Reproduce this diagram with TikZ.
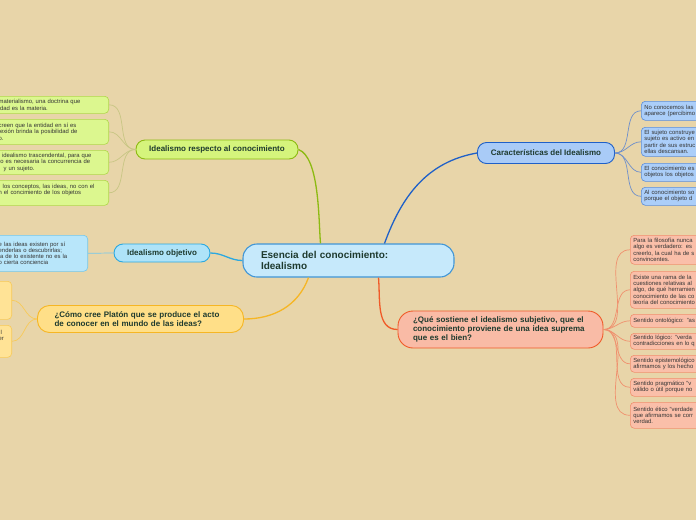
\documentclass[tikz,border=0pt]{standalone}
\usepackage{fontspec}
\setmainfont{Liberation Sans}
\usetikzlibrary{positioning}

\definecolor{bgtan}{HTML}{E8D5A9}
\definecolor{titletext}{HTML}{1E3A2E}
\definecolor{leaftext}{HTML}{353535}
\definecolor{centerfill}{HTML}{C6E9FB}
\definecolor{centerline}{HTML}{4196D6}
\definecolor{greenfill}{HTML}{D5F47C}
\definecolor{greenline}{HTML}{8DBA12}
\definecolor{greenleaf}{HTML}{DCF78F}
\definecolor{greenleafline}{HTML}{AFD84A}
\definecolor{greenlink}{HTML}{C8C684}
\definecolor{cyanfill}{HTML}{AEE3F8}
\definecolor{cyanline}{HTML}{2BA8E0}
\definecolor{cyanleaf}{HTML}{B8E6FA}
\definecolor{cyanleafline}{HTML}{72C8EE}
\definecolor{yellowfill}{HTML}{FFDF88}
\definecolor{yellowline}{HTML}{F6B624}
\definecolor{yellowleaf}{HTML}{FFE396}
\definecolor{yellowleafline}{HTML}{F8CA58}
\definecolor{bluefill}{HTML}{A9CBF7}
\definecolor{blueline}{HTML}{1F60C8}
\definecolor{blueleaf}{HTML}{ABCEF9}
\definecolor{blueleafline}{HTML}{5C8EDA}
\definecolor{bluelink}{HTML}{6E8FCB}
\definecolor{redfill}{HTML}{F9BBA6}
\definecolor{redline}{HTML}{F05A28}
\definecolor{redleaf}{HTML}{FABFA9}
\definecolor{redleafline}{HTML}{F0906E}

\begin{document}
\begin{tikzpicture}[
      x=1pt, y=-1pt,
      title/.style={rectangle, rounded corners=9pt, line width=0.9pt, inner sep=0pt,
            align=center, text=titletext, font=\bfseries\fontsize{8}{9}\selectfont},
      leaf/.style={rectangle, rounded corners=4pt, line width=0.6pt, inner xsep=3pt,
            inner ysep=0pt, align=left, text=leaftext, font=\fontsize{5.9}{6.2}\selectfont},
      mainlink/.style={line width=1.3pt},
      leaflink/.style={line width=0.7pt}
]
      \useasboundingbox (0,0) rectangle (696,520);
      \fill[bgtan] (0,0) rectangle (696,520);
      \clip (0,0) rectangle (696,520);

      % centre and first level
      \node[title, fill=centerfill, draw=centerline, line width=1.1pt, rounded corners=14pt,
            minimum width=211pt, minimum height=33pt, text width=175pt, align=left,
            font=\bfseries\fontsize{10}{11}\selectfont] (central) at (348.5,260.5)
            {Esencia del conocimiento:\\Idealismo};
      \node[title, fill=greenfill, draw=greenline, minimum width=162pt, minimum height=19pt]
            (respecto) at (217,149.5) {Idealismo respecto al conocimiento};
      \node[title, fill=cyanfill, draw=cyanline, minimum width=96pt, minimum height=18pt]
            (objetivo) at (162,253) {Idealismo objetivo};
      \node[title, fill=yellowfill, draw=yellowline, rounded corners=12pt, minimum width=206pt,
            minimum height=27pt, text width=172pt, align=left] (platon) at (140.5,319)
            {¿Cómo cree Platón que se produce el acto\\de conocer en el mundo de las ideas?};
      \node[title, fill=bluefill, draw=blueline, minimum width=137pt, minimum height=21pt]
            (caract) at (546,153) {Características del Idealismo};
      \node[title, fill=redfill, draw=redline, rounded corners=15pt, minimum width=205pt,
            minimum height=37pt, text width=175pt, align=left] (subjetivo) at (500.5,329.5)
            {¿Qué sostiene el idealismo subjetivo, que el\\conocimiento proviene de una idea suprema\\que es el bien?};

      % left leaves
      \node[leaf, fill=greenleaf, draw=greenleafline, anchor=north east, text width=107pt,
            minimum height=17pt] (g1) at (109,96)
            {materialismo, una doctrina que\\idad es la materia.};
      \node[leaf, fill=greenleaf, draw=greenleafline, anchor=north east, text width=107pt,
            minimum height=25pt] (g2) at (109,119)
            {creen que la entidad en sí es\\lexión brinda la posibilidad de\\o.};
      \node[leaf, fill=greenleaf, draw=greenleafline, anchor=north east, text width=107pt,
            minimum height=24pt] (g3) at (109,150)
            {l idealismo trascendental, para que\\to es necesaria la concurrencia de\\\hspace*{5pt}y un sujeto.};
      \node[leaf, fill=greenleaf, draw=greenleafline, anchor=north east, text width=107pt,
            minimum height=25pt] (g4) at (109,180)
            {\hspace*{4pt}los conceptos, las ideas, no con el\\n el concimiento de los objetos\\\mbox{}};
      \node[leaf, fill=cyanleaf, draw=cyanleafline, anchor=north east, text width=86pt,
            minimum height=36pt] (c1) at (88,235)
            {e las ideas existen por sí\\enderlas o descubrirlas;\\ia de lo existente no es la\\o cierta conciencia};
      \node[leaf, fill=yellowleaf, draw=yellowleafline, anchor=north east, text width=10pt,
            minimum height=38pt] (y1) at (12,281) {};
      \node[leaf, fill=yellowleaf, draw=yellowleafline, anchor=north east, text width=10pt,
            minimum height=32pt] (y2) at (12,325)
            {\hspace*{2pt}l\\er\\\mbox{}\\\mbox{}};

      % right leaves
      \node[leaf, fill=blueleaf, draw=blueleafline, anchor=north west, text width=100pt,
            minimum height=19pt] (b1) at (641,101)
            {No conocemos las\\aparece (percibimo};
      \node[leaf, fill=blueleaf, draw=blueleafline, anchor=north west, text width=100pt,
            minimum height=29pt] (b2) at (641,127)
            {El sujeto construye\\sujeto es activo en\\partir de sus estruc\\ellas descansan.};
      \node[leaf, fill=blueleaf, draw=blueleafline, anchor=north west, text width=100pt,
            minimum height=18pt] (b3) at (641,163)
            {El conocimiento es\\objetos los objetos};
      \node[leaf, fill=blueleaf, draw=blueleafline, anchor=north west, text width=100pt,
            minimum height=18pt] (b4) at (641,187)
            {Al conocimiento so\\porque el objeto d};

      \node[leaf, fill=redleaf, draw=redleafline, anchor=north west, text width=100pt,
            minimum height=29pt] (r1) at (630,235)
            {Para la filosofía nunca\\algo es verdadero: es\\creerlo, la cual ha de s\\convincentes.};
      \node[leaf, fill=redleaf, draw=redleafline, anchor=north west, text width=100pt,
            minimum height=37pt] (r2) at (630,271)
            {Existe una rama de la\\cuestiones relativas al\\algo, de qué herramien\\conocimiento de las co\\teoría del conocimiento};
      \node[leaf, fill=redleaf, draw=redleafline, anchor=north west, text width=100pt,
            minimum height=13pt] (r3) at (630,314)
            {Sentido ontológico: "as};
      \node[leaf, fill=redleaf, draw=redleafline, anchor=north west, text width=100pt,
            minimum height=16pt] (r4) at (630,333)
            {Sentido lógico: "verda\\contradicciones en lo q};
      \node[leaf, fill=redleaf, draw=redleafline, anchor=north west, text width=100pt,
            minimum height=17pt] (r5) at (630,355)
            {Sentido epistemológico\\afirmamos y los hecho};
      \node[leaf, fill=redleaf, draw=redleafline, anchor=north west, text width=100pt,
            minimum height=18pt] (r6) at (630,378)
            {Sentido pragmático "v\\válido o útil porque no};
      \node[leaf, fill=redleaf, draw=redleafline, anchor=north west, text width=100pt,
            minimum height=26pt] (r7) at (630,402)
            {Sentido ético "verdade\\que afirmamos se corr\\verdad.};

      % main branches
      \draw[mainlink, greenline] ([xshift=-28pt]central.north) to[out=95,in=-20,looseness=0.6] (respecto.east);
      \draw[mainlink, blueline] ([xshift=36pt]central.north) to[out=70,in=190] (caract.west);
      \draw[mainlink, cyanline] (central.west) to[out=180,in=0] (objetivo.east);
      \draw[mainlink, yellowline] ([xshift=-40pt]central.south) to[out=-110,in=0] (platon.east);
      \draw[mainlink, redline] ([xshift=30pt]central.south) to[out=-85,in=180] (subjetivo.west);

      % leaf links
      \foreach \leafname in {g1,g2,g3,g4}
            \draw[leaflink, greenlink] (respecto.west) to[out=180,in=0] (\leafname.east);
      \draw[leaflink, cyanleafline] (objetivo.west) to[out=180,in=0] (c1.east);
      \foreach \leafname in {y1,y2}
            \draw[leaflink, yellowleafline] (platon.west) to[out=180,in=0] (\leafname.east);
      \foreach \leafname in {b1,b2,b3,b4}
            \draw[leaflink, bluelink] (caract.east) to[out=0,in=180] (\leafname.west);
      \foreach \leafname in {r1,r2,r3,r4,r5,r6,r7}
            \draw[leaflink, redleafline] (subjetivo.east) to[out=0,in=180] (\leafname.west);
\end{tikzpicture}
\end{document}
